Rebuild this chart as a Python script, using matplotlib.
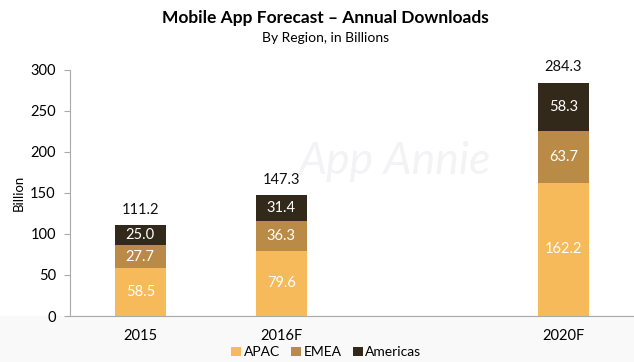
import numpy as np
import matplotlib.pyplot as plt
from matplotlib.patches import Rectangle

plt.rcParams['font.family'] = ['Lato', 'DejaVu Sans']

##### data
years = ['2015', '2016F', '2020F']
xpos = [0, 1, 3]   # empty slot between 2016F and 2020F
apac = [58.5, 79.6, 162.2]
emea = [27.7, 36.3, 63.7]
americas = [25.0, 31.4, 58.3]
totals = [111.2, 147.3, 284.3]

c_apac = '#F6BA5A'
c_emea = '#B98B47'
c_amer = '#33291A'

##### plotting
fig = plt.figure(figsize=(6.34, 3.62), dpi=100)
# faint grey band under the axis
fig.patches.append(Rectangle((0, 0), 1, 0.127, transform=fig.transFigure,
                             color='#f9f9f9', zorder=-5))
ax = fig.add_axes([0.110, 0.127, 0.890, 0.680])
ax.patch.set_alpha(0)

# watermark
ax.text(1.8, 188, 'App Annie', fontsize=32, style='italic', color='#f3f3f5',
        ha='center', va='center', zorder=0)

w = 0.36
bottom2 = np.add(apac, emea)
b1 = ax.bar(xpos, apac, w, color=c_apac, label='APAC', zorder=2)
b2 = ax.bar(xpos, emea, w, bottom=apac, color=c_emea, label='EMEA', zorder=2)
b3 = ax.bar(xpos, americas, w, bottom=bottom2, color=c_amer, label='Americas', zorder=2)

for bars, vals in [(b1, apac), (b2, emea), (b3, americas)]:
    for r, v in zip(bars, vals):
        ax.text(r.get_x() + r.get_width() / 2, r.get_y() + r.get_height() / 2,
                '%.1f' % v, ha='center', va='center', color='white', fontsize=10.5)

for x, t in zip(xpos, totals):
    ax.annotate('%.1f' % t, (x, t), xytext=(0, 11), textcoords='offset points',
                ha='center', va='center', fontsize=10.5, color='#111111')

ax.set_xlim(-0.5, 3.5)
ax.set_ylim(0, 300)
ax.set_yticks(range(0, 301, 50))
ax.set_xticks(xpos)
ax.set_xticklabels(years)
ax.tick_params(axis='x', length=0, pad=9, labelsize=10.5)
ax.tick_params(axis='y', length=4, color='#aaaaaa', pad=6, labelsize=10.5)
ax.spines['top'].set_visible(False)
ax.spines['right'].set_visible(False)
ax.spines['left'].set_color('#aaaaaa')
ax.spines['bottom'].set_color('#aaaaaa')
ax.set_ylabel('Billion', fontsize=9.5, labelpad=4)

fig.text(0.513, 0.95, 'Mobile App Forecast \u2013 Annual Downloads', ha='center',
         va='center', fontsize=12.5, fontweight='bold')
fig.text(0.513, 0.895, 'By Region, in Billions', ha='center', va='center', fontsize=10)

fig.legend(handles=[b1, b2, b3], loc='center', bbox_to_anchor=(0.515, 0.027),
           ncol=3, frameon=False, fontsize=10, handlelength=0.7, handleheight=0.7,
           handletextpad=0.2, columnspacing=0.8)

plt.savefig('out.png', dpi=100)
